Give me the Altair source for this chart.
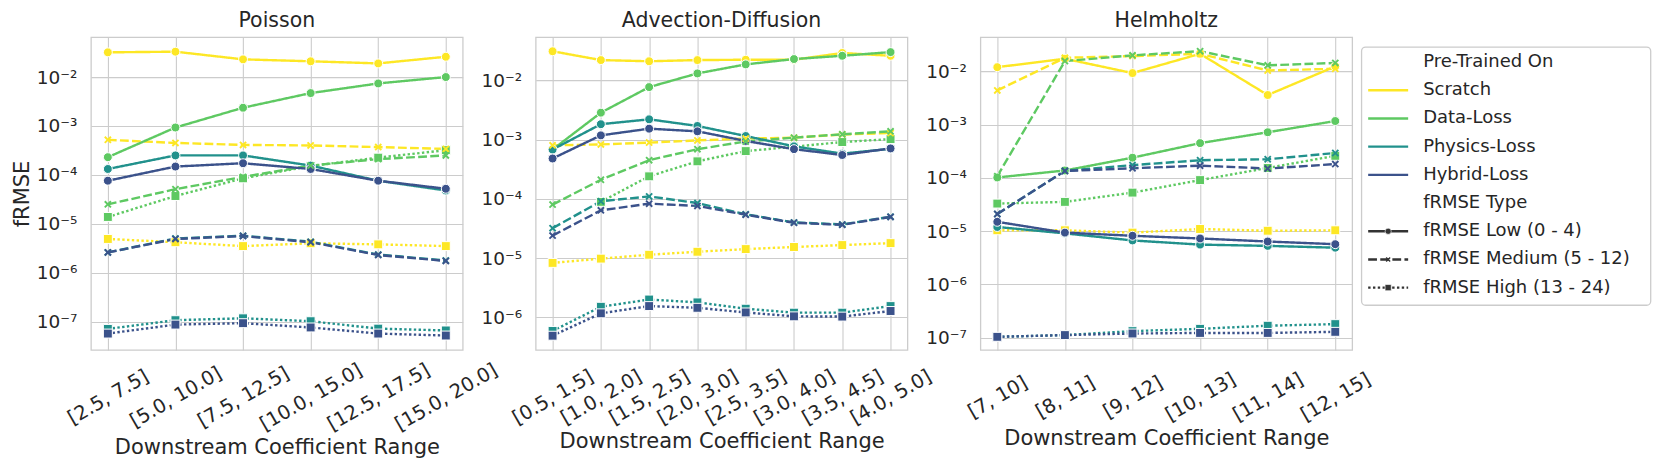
import altair as alt
import pandas as pd

# ---------------- categories / styling tables ----------------
LOSSES = ["Scratch", "Data-Loss", "Physics-Loss", "Hybrid-Loss"]
LOSS_COLORS = ["#fde725", "#5ec962", "#21918c", "#3b528b"]
TYPES = ["fRMSE Low (0 - 4)", "fRMSE Medium (5 - 12)", "fRMSE High (13 - 24)"]
TYPE_DASHES = [[1, 0], [8.8, 3.3], [2.4, 2.4]]

# ---------------- Poisson ----------------
P_RANGES = ["[2.5, 7.5]", "[5.0, 10.0]", "[7.5, 12.5]", "[10.0, 15.0]", "[12.5, 17.5]", "[15.0, 20.0]"]
P_SCRATCH_LOW = [0.032, 0.033, 0.023, 0.021, 0.019, 0.026]
P_SCRATCH_MED = [5.2e-4, 4.5e-4, 4.1e-4, 4.0e-4, 3.7e-4, 3.4e-4]
P_SCRATCH_HIGH = [4.9e-6, 4.2e-6, 3.5e-6, 4.0e-6, 3.8e-6, 3.5e-6]
P_DATA_LOW = [2.3e-4, 9.3e-4, 2.36e-3, 4.7e-3, 7.4e-3, 1.0e-2]
P_DATA_MED = [2.5e-5, 5.1e-5, 9.1e-5, 1.55e-4, 2.1e-4, 2.5e-4]
P_DATA_HIGH = [1.38e-5, 3.7e-5, 8.5e-5, 1.52e-4, 2.25e-4, 3.2e-4]
P_PHYS_LOW = [1.32e-4, 2.5e-4, 2.5e-4, 1.55e-4, 7.6e-5, 4.8e-5]
P_PHYS_MED = [2.6e-6, 5.0e-6, 5.7e-6, 4.3e-6, 2.35e-6, 1.78e-6]
P_PHYS_HIGH = [7.1e-8, 1.07e-7, 1.17e-7, 1.02e-7, 7.2e-8, 6.6e-8]
P_HYB_LOW = [7.6e-5, 1.48e-4, 1.73e-4, 1.32e-4, 7.6e-5, 5.2e-5]
P_HYB_MED = [2.6e-6, 4.9e-6, 5.6e-6, 4.2e-6, 2.3e-6, 1.74e-6]
P_HYB_HIGH = [5.7e-8, 8.7e-8, 9.3e-8, 7.6e-8, 5.7e-8, 5.2e-8]

# ---------------- Advection-Diffusion ----------------
A_RANGES = ["[0.5, 1.5]", "[1.0, 2.0]", "[1.5, 2.5]", "[2.0, 3.0]", "[2.5, 3.5]", "[3.0, 4.0]", "[3.5, 4.5]", "[4.0, 5.0]"]
A_SCRATCH_LOW = [0.031, 0.022, 0.021, 0.022, 0.0223, 0.0223, 0.029, 0.026]
A_SCRATCH_MED = [8.0e-4, 8.3e-4, 8.9e-4, 9.7e-4, 1.04e-3, 1.08e-3, 1.22e-3, 1.29e-3]
A_SCRATCH_HIGH = [8.3e-6, 9.8e-6, 1.14e-5, 1.28e-5, 1.42e-5, 1.54e-5, 1.66e-5, 1.79e-5]
A_DATA_LOW = [6.8e-4, 2.85e-3, 7.7e-3, 0.0131, 0.0186, 0.0229, 0.026, 0.030]
A_DATA_MED = [8.0e-5, 2.1e-4, 4.5e-4, 6.9e-4, 9.3e-4, 1.08e-3, 1.23e-3, 1.38e-3]
A_DATA_HIGH = [None, 8.9e-5, 2.4e-4, 4.3e-4, 6.4e-4, 7.6e-4, 9.1e-4, 1.02e-3]
A_PHYS_LOW = [6.8e-4, 1.82e-3, 2.2e-3, 1.7e-3, 1.15e-3, 7.7e-4, 5.8e-4, 7.0e-4]
A_PHYS_MED = [3.2e-5, 9.1e-5, 1.1e-4, 8.5e-5, 5.5e-5, 4.0e-5, 3.7e-5, 5.0e-5]
A_PHYS_HIGH = [5.9e-7, 1.51e-6, 2.0e-6, 1.79e-6, 1.40e-6, 1.20e-6, 1.2e-6, 1.55e-6]
A_HYB_LOW = [4.8e-4, 1.18e-3, 1.53e-3, 1.38e-3, 9.5e-4, 6.9e-4, 5.5e-4, 7.1e-4]
A_HYB_MED = [2.4e-5, 6.4e-5, 8.3e-5, 7.6e-5, 5.4e-5, 3.95e-5, 3.65e-5, 4.95e-5]
A_HYB_HIGH = [4.9e-7, 1.17e-6, 1.55e-6, 1.45e-6, 1.21e-6, 1.04e-6, 1.03e-6, 1.28e-6]

# ---------------- Helmholtz ----------------
H_RANGES = ["[7, 10]", "[8, 11]", "[9, 12]", "[10, 13]", "[11, 14]", "[12, 15]"]
H_SCRATCH_LOW = [0.012, 0.0173, 9.3e-3, 0.0214, 3.6e-3, 0.0124]
H_SCRATCH_MED = [4.4e-3, 0.018, 0.0194, 0.0214, 0.0104, 0.0112]
H_SCRATCH_HIGH = [1.04e-5, 1.04e-5, 9.4e-6, 1.1e-5, 1.02e-5, 1.04e-5]
H_DATA_LOW = [1.02e-4, 1.38e-4, 2.4e-4, 4.5e-4, 7.2e-4, 1.17e-3]
H_DATA_MED = [1.08e-4, 0.0156, 0.020, 0.024, 0.0130, 0.0144]
H_DATA_HIGH = [3.3e-5, 3.55e-5, 5.3e-5, 9.1e-5, 1.54e-4, 2.6e-4]
H_PHYS_LOW = [1.2e-5, 9.1e-6, 6.7e-6, 5.6e-6, 5.3e-6, 4.9e-6]
H_PHYS_MED = [2.1e-5, 1.36e-4, 1.74e-4, 2.15e-4, 2.24e-4, 2.94e-4]
H_PHYS_HIGH = [1.04e-7, 1.12e-7, 1.33e-7, 1.47e-7, 1.68e-7, 1.8e-7]
H_HYB_LOW = [1.5e-5, 9.4e-6, 8.2e-6, 7.3e-6, 6.4e-6, 5.7e-6]
H_HYB_MED = [2.1e-5, 1.35e-4, 1.52e-4, 1.70e-4, 1.50e-4, 1.82e-4]
H_HYB_HIGH = [1.04e-7, 1.12e-7, 1.2e-7, 1.23e-7, 1.23e-7, 1.29e-7]

# y-axis tick values (decades)
P_TICKS = [1e-7, 1e-6, 1e-5, 1e-4, 1e-3, 1e-2]
A_TICKS = [1e-6, 1e-5, 1e-4, 1e-3, 1e-2]
H_TICKS = [1e-7, 1e-6, 1e-5, 1e-4, 1e-3, 1e-2]

TEXT = "#262626"
FONT = "DejaVu Sans"


def build(ranges, rows):
    recs = []
    for loss, typ, vals in rows:
        for r, v in zip(ranges, vals):
            if v is not None:
                recs.append({"Range": r, "Pre-Trained On": loss, "Type": typ, "fRMSE": v})
    return pd.DataFrame(recs)


def rows_for(sl, sm, sh, dl, dm, dh, pl, pm, ph, hl, hm, hh):
    return [
        ("Scratch", TYPES[0], sl), ("Scratch", TYPES[1], sm), ("Scratch", TYPES[2], sh),
        ("Data-Loss", TYPES[0], dl), ("Data-Loss", TYPES[1], dm), ("Data-Loss", TYPES[2], dh),
        ("Physics-Loss", TYPES[0], pl), ("Physics-Loss", TYPES[1], pm), ("Physics-Loss", TYPES[2], ph),
        ("Hybrid-Loss", TYPES[0], hl), ("Hybrid-Loss", TYPES[1], hm), ("Hybrid-Loss", TYPES[2], hh),
    ]


P_DF = build(P_RANGES, rows_for(P_SCRATCH_LOW, P_SCRATCH_MED, P_SCRATCH_HIGH, P_DATA_LOW, P_DATA_MED, P_DATA_HIGH,
                                P_PHYS_LOW, P_PHYS_MED, P_PHYS_HIGH, P_HYB_LOW, P_HYB_MED, P_HYB_HIGH))
A_DF = build(A_RANGES, rows_for(A_SCRATCH_LOW, A_SCRATCH_MED, A_SCRATCH_HIGH, A_DATA_LOW, A_DATA_MED, A_DATA_HIGH,
                                A_PHYS_LOW, A_PHYS_MED, A_PHYS_HIGH, A_HYB_LOW, A_HYB_MED, A_HYB_HIGH))
H_DF = build(H_RANGES, rows_for(H_SCRATCH_LOW, H_SCRATCH_MED, H_SCRATCH_HIGH, H_DATA_LOW, H_DATA_MED, H_DATA_HIGH,
                                H_PHYS_LOW, H_PHYS_MED, H_PHYS_HIGH, H_HYB_LOW, H_HYB_MED, H_HYB_HIGH))

SUP_EXPR = ("'10' + (round(log(datum.value)/LN10) < 0 ? '\u207b' : '') + "
            "['\u2070','\u00b9','\u00b2','\u00b3','\u2074','\u2075','\u2076','\u2077','\u2078','\u2079']"
            "[abs(round(log(datum.value)/LN10))]")

X_MARK = "M-1,-1L1,1M-1,1L1,-1"

color_enc = alt.Color("Pre-Trained On:N", scale=alt.Scale(domain=LOSSES, range=LOSS_COLORS), legend=None)


def panel(df, ranges, title, domain, ticks, pad, show_ytitle):
    yaxis_kw = dict(values=ticks, labelExpr=SUP_EXPR, labelPadding=14, grid=True, labelFontSize=18.5)
    if show_ytitle:
        yaxis_kw["title"] = "fRMSE"
        yaxis_kw["titlePadding"] = 4
    else:
        yaxis_kw["title"] = ""
    base = alt.Chart(df).encode(
        x=alt.X("Range:N", sort=ranges,
                scale=alt.Scale(type="point", padding=pad),
                axis=alt.Axis(title="Downstream Coefficient Range", labelAngle=-30, labelAlign="center",
                              labelBaseline="middle", labelPadding=47, labelFontSize=19.5,
                              grid=True, titlePadding=3)),
        y=alt.Y("fRMSE:Q", scale=alt.Scale(type="log", domain=domain, nice=False), axis=alt.Axis(**yaxis_kw)),
        color=color_enc,
    )
    lines = base.mark_line(strokeWidth=2.4).encode(
        strokeDash=alt.StrokeDash("Type:N", scale=alt.Scale(domain=TYPES, range=TYPE_DASHES), legend=None),
        detail="Type:N",
    )
    filled = base.transform_filter(alt.datum.Type != TYPES[1]).mark_point(
        filled=True, size=80, stroke="white", strokeWidth=1.0, opacity=1
    ).encode(
        shape=alt.Shape("Type:N", scale=alt.Scale(domain=[TYPES[0], TYPES[2]], range=["circle", "square"]),
                        legend=None)
    )
    crosses = base.transform_filter(alt.datum.Type == TYPES[1]).mark_point(
        shape=X_MARK, filled=False, size=38, strokeWidth=1.9, opacity=1
    )
    return alt.layer(lines, filled, crosses).properties(
        width=372, height=313,
        title=alt.TitleParams(title, fontSize=20.5, fontWeight="normal", color=TEXT, offset=6,
                              anchor="middle", frame="group"),
    )


p1 = panel(P_DF, P_RANGES, "Poisson", [2.64e-8, 0.0655], P_TICKS, 0.25, True)
p2 = panel(A_DF, A_RANGES, "Advection-Diffusion", [2.82e-7, 0.0537], A_TICKS, 0.35, False)
p3 = panel(H_DF, H_RANGES, "Helmholtz", [5.9e-8, 0.044], H_TICKS, 0.25, False)

# ---------------- legend (drawn as a small chart) ----------------
LEG_LABELS = ["Pre-Trained On"] + LOSSES + ["fRMSE Type"] + TYPES
LEG_KIND = ["head", "color", "color", "color", "color", "head", "dash", "dash", "dash"]
leg_df = pd.DataFrame({"row": list(range(len(LEG_LABELS))), "label": LEG_LABELS, "kind": LEG_KIND})
leg_y = alt.Y("row:Q", scale=alt.Scale(domain=[-0.886, 10.21], reverse=True), axis=None)

box = alt.Chart(pd.DataFrame({"k": [0]})).mark_rect(
    fill="white", stroke="#cccccc", strokeWidth=1.3, cornerRadius=4
).encode(x=alt.value(-63.6), x2=alt.value(225.7), y=alt.value(10), y2=alt.value(268.3))

leg_text = alt.Chart(leg_df).mark_text(align="left", baseline="middle", fontSize=18, color=TEXT, font=FONT).encode(
    x=alt.value(-2), y=leg_y, text="label:N"
)
leg_color = alt.Chart(leg_df).transform_filter(alt.datum.kind == "color").mark_rule(strokeWidth=2.4).encode(
    x=alt.value(-57), x2=alt.value(-17), y=leg_y,
    color=alt.Color("label:N", scale=alt.Scale(domain=LOSSES, range=LOSS_COLORS), legend=None),
)
leg_dash = alt.Chart(leg_df).transform_filter(alt.datum.kind == "dash").mark_rule(strokeWidth=2.4, color="#333333").encode(
    x=alt.value(-57), x2=alt.value(-17), y=leg_y,
    strokeDash=alt.StrokeDash("label:N", scale=alt.Scale(domain=TYPES, range=TYPE_DASHES), legend=None),
)
leg_pts = alt.Chart(leg_df).transform_filter(
    (alt.datum.label == TYPES[0]) | (alt.datum.label == TYPES[2])
).mark_point(filled=True, size=38, color="#333333", stroke="white", strokeWidth=0.6, opacity=1).encode(
    x=alt.value(-37), y=leg_y,
    shape=alt.Shape("label:N", scale=alt.Scale(domain=[TYPES[0], TYPES[2]], range=["circle", "square"]), legend=None),
)
leg_x = alt.Chart(leg_df).transform_filter(alt.datum.label == TYPES[1]).mark_point(
    shape=X_MARK, filled=False, size=16, strokeWidth=1.4, color="#333333", opacity=1
).encode(x=alt.value(-37), y=leg_y)

legend = alt.layer(box, leg_color, leg_dash, leg_pts, leg_x, leg_text).properties(
    width=226, height=313, view=alt.ViewBackground(stroke="transparent")
)

chart = alt.hconcat(
    p1, p2, p3, legend, spacing=73, bounds="flush",
    padding={"left": 2, "top": 1, "right": 0, "bottom": 0},
).resolve_scale(
    x="independent", y="independent", strokeDash="independent", shape="independent"
).configure(
    font=FONT
).configure_axis(
    labelFont=FONT, titleFont=FONT, labelFontSize=18.5, titleFontSize=21, labelColor=TEXT, titleColor=TEXT,
    titleFontWeight="normal", gridColor="#cccccc", gridWidth=1.1, domain=False, ticks=False,
).configure_view(
    stroke="#cccccc", strokeWidth=1.3
).configure_title(
    font=FONT, fontSize=20.5, fontWeight="normal", color=TEXT
)

chart.save("out.html", embed_options={"renderer": "svg", "actions": False})
